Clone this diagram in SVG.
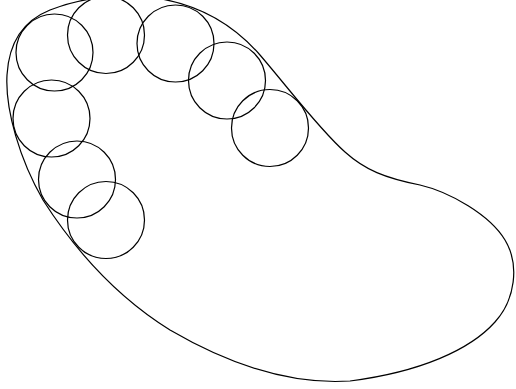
<svg xmlns="http://www.w3.org/2000/svg" width="516" height="389" viewBox="0 0 516 389">
<style>
.s{fill:none;stroke:#000;stroke-width:1.2}
</style>
<rect width="516" height="389" fill="#fff"/>
<g id="blob">
<path class="s" d="M 130,-4 C 180,-3 225,15 260,55 C 290,90 320,130 345,152 C 365,170 385,178 420,185 C 450,192 490,215 505,240 C 520,265 515,300 495,322 C 470,350 420,372 350,381 C 290,385 230,365 170,330 C 125,302 80,258 43,200 C 20,160 5,110 7,75 C 9,40 25,20 50,10 C 75,0 100,-4 130,-4 Z"/>
</g>
<g id="circles">
<circle id="c1" class="s" cx="54.5" cy="52.5" r="38.5"/>
<circle id="c2" class="s" cx="106" cy="35" r="38.5"/>
<circle id="c3" class="s" cx="175.5" cy="43.5" r="38.5"/>
<circle id="c4" class="s" cx="227" cy="80.5" r="38.5"/>
<circle id="c5" class="s" cx="270" cy="128" r="38.5"/>
<circle id="c6" class="s" cx="51.5" cy="118.5" r="38.5"/>
<circle id="c7" class="s" cx="77" cy="179.5" r="38.5"/>
<circle id="c8" class="s" cx="106" cy="220" r="38.5"/>
</g>
</svg>
